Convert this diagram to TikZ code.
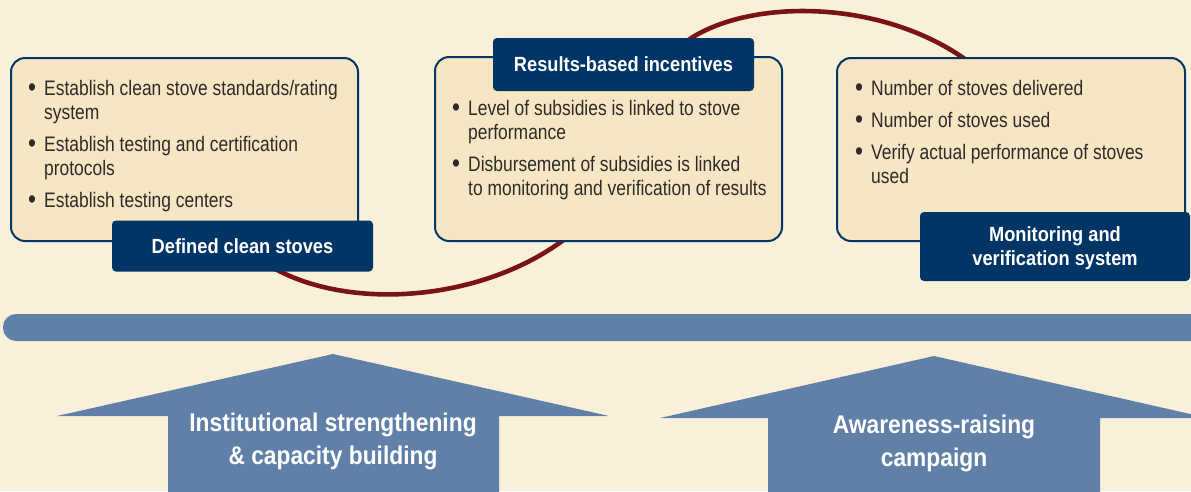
\documentclass[tikz,border=0pt]{standalone}
\usepackage{fontspec}
\setmainfont{Liberation Sans}[FakeStretch=0.83]
\newfontfamily\bcf{Liberation Sans}[FakeStretch=0.89]
\definecolor{bgcream}{RGB}{249,240,218}
\definecolor{boxfill}{RGB}{247,230,195}
\definecolor{navy}{RGB}{0,53,102}
\definecolor{steel}{RGB}{96,128,168}
\definecolor{loopred}{RGB}{122,20,20}
\definecolor{textgray}{RGB}{45,42,40}
\newcommand{\bulletmark}{\makebox[16pt][l]{\raisebox{-0.06em}{\scalebox{1.3}{\textbullet}}}}
\begin{document}
\begin{tikzpicture}[x=1pt,y=-1pt,
  infobox/.style={draw=navy, line width=2pt, fill=boxfill, rounded corners=14pt,
    inner sep=0pt, outer sep=0pt},
  labelbox/.style={fill=navy, rounded corners=4pt, text=white, inner sep=0pt,
    font=\bcf\bfseries\fontsize{20.5}{24}\selectfont, align=center},
  labeltext/.style={text=white, inner sep=0pt,
    font=\bcf\bfseries\fontsize{20.5}{24}\selectfont, align=center},
  bodytext/.style={anchor=north west, inner sep=0pt, text=textgray,
    font=\fontsize{21}{24}\selectfont, align=left},
  upshape/.style={fill=steel},
  arrowtext/.style={text=white, font=\bcf\bfseries\fontsize{25.6}{33}\selectfont, align=center},
  loopline/.style={draw=loopred, line width=4.6pt}]
\path[use as bounding box] (0,0) rectangle (1191,491);
\clip (0,0) rectangle (1191,491);
\fill[bgcream] (0,0) rectangle (1191,491);

% red loop (behind the boxes)
\coordinate (r0) at (230,230);
\coordinate (r1) at (570,235);
\coordinate (r2) at (700,33);
\coordinate (r3) at (985,75);
\path[loopline] (r0) .. controls (290,315) and (470,315) .. (r1)
  .. controls (640,190) and (630,68) .. (r2)
  .. controls (770,-4) and (905,3) .. (r3);

% boxes
\node[infobox, minimum width=347pt, minimum height=183pt] (b1) at (184.5,149.5) {};
\node[infobox, minimum width=347pt, minimum height=184pt] (b2) at (608.5,149) {};
\node[infobox, minimum width=348pt, minimum height=183pt] (b3) at (1011,149.5) {};

% box texts
\node[bodytext] (t1) at (28,78) {\begin{tabular}{@{}l@{}l@{}}
\bulletmark & Establish clean stove standards/rating\\
 & system\\[8pt]
\bulletmark & Establish testing and certification\\
 & protocols\\[8pt]
\bulletmark & Establish testing centers
\end{tabular}};
\node[bodytext] (t2) at (452,98) {\begin{tabular}{@{}l@{}l@{}}
\bulletmark & Level of subsidies is linked to stove\\
 & performance\\[8pt]
\bulletmark & Disbursement of subsidies is linked\\
 & to monitoring and verification of results
\end{tabular}};
\node[bodytext] (t3) at (855,78) {\begin{tabular}{@{}l@{}l@{}}
\bulletmark & Number of stoves delivered\\[8pt]
\bulletmark & Number of stoves used\\[8pt]
\bulletmark & Verify actual performance of stoves\\
 & used
\end{tabular}};

% labels
\node[labelbox, minimum width=261pt, minimum height=51pt] (l1) at (242.5,246) {Defined clean stoves};
\node[labelbox, minimum width=261pt, minimum height=53pt] (l2) at (623.5,64.5) {Results-based incentives};
\node[labelbox, minimum width=270pt, minimum height=69pt] (l3) at (1055,246.5) {};
\node[labeltext] (l3t) at (1055,248.5) {Monitoring and\\verification system};

% band
\fill[steel, rounded corners=13pt] (3,314) rectangle (1230,341);

% up arrows
\fill[upshape] (168,495) -- (168,416) -- (57,416) -- (333,354) -- (609,416) -- (499,416) -- (499,495) -- cycle;
\fill[upshape] (768,495) -- (768,418) -- (660,418) -- (934,356) -- (1208,418) -- (1100,418) -- (1100,495) -- cycle;
\node[arrowtext] (a1) at (333,441) {Institutional strengthening\\\& capacity building};
\node[arrowtext] (a2) at (934,443.5) {Awareness-raising\\campaign};
\end{tikzpicture}
\end{document}
